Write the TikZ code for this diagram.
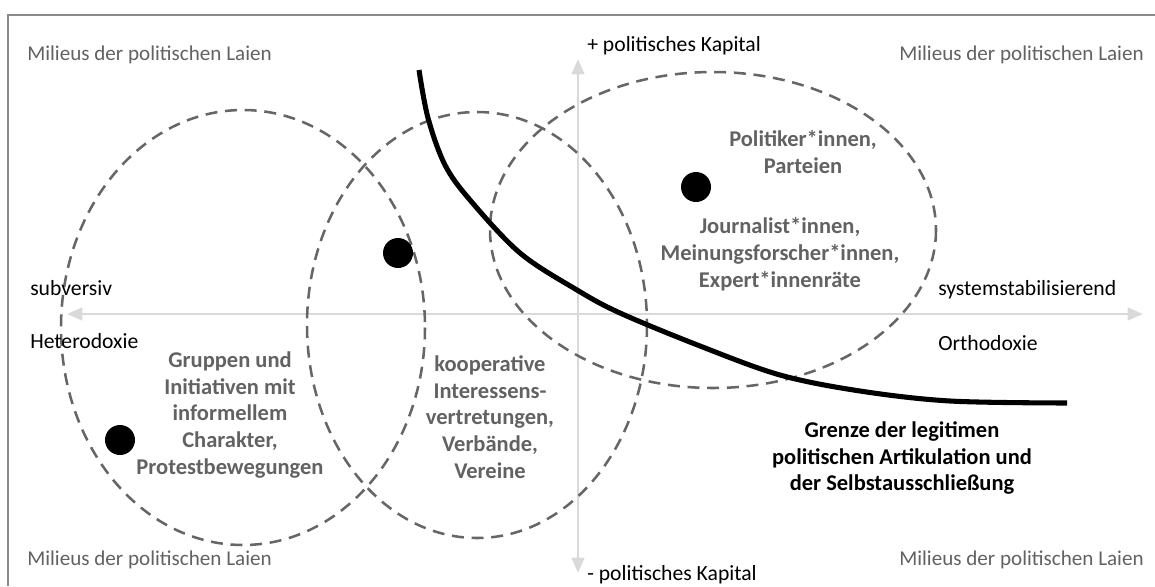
\documentclass[tikz,border=0pt]{standalone}
\usepackage{fontspec}
\setmainfont{Carlito}
\usetikzlibrary{arrows.meta}

\definecolor{axisgray}{HTML}{D9D9D9}
\definecolor{textgray}{HTML}{626262}
\definecolor{dashgray}{HTML}{666666}
\definecolor{framegray}{HTML}{8A8A8A}

\begin{document}
\begin{tikzpicture}[x=0.025cm, y=-0.025cm,
    axis/.style={line width=2pt, axisgray, {Triangle[length=11pt,width=9pt]}-{Triangle[length=11pt,width=9pt]}},
    field/.style={dashgray, line width=1.8pt, dash pattern=on 8.5pt off 5.5pt},
    dot/.style={circle, fill=black, inner sep=0pt, minimum size=0.75cm},
    milieu/.style={textgray, inner sep=0pt, font=\fontsize{15}{18}\selectfont},
    pole/.style={black, inner sep=0pt, font=\fontsize{15.4}{18}\selectfont},
    actor/.style={textgray, align=center, inner sep=0pt, font=\fontsize{16}{19}\selectfont\bfseries},
    border/.style={black, line width=3.6pt}]

    \useasboundingbox (0,0) rectangle (1155,586);

    % Frame (top and left)
    \draw[framegray, line width=1.2pt] (1155,15) -- (8,15) -- (8,586);

    % Axes
    \coordinate (top) at (578,59);
    \coordinate (bottom) at (578,573);
    \coordinate (west) at (67,314);
    \coordinate (east) at (1143,314);
    \draw[axis] (bottom) -- (top);
    \draw[axis] (west) -- (east);

    % Fields
    \draw[field] (243,327.5) ellipse [x radius=182, y radius=217.5];
    \draw[field] (477,325) ellipse [x radius=170, y radius=213];
    \draw[field] (713,230) ellipse [x radius=223, y radius=158];

    % Corner labels
    \node[milieu, anchor=base west] (laienNW) at (27,60) {Milieus der politischen Laien};
    \node[milieu, anchor=base east] (laienNE) at (1144,60) {Milieus der politischen Laien};
    \node[milieu, anchor=base west] (laienSW) at (27,565) {Milieus der politischen Laien};
    \node[milieu, anchor=base east] (laienSE) at (1144,565) {Milieus der politischen Laien};

    % Axis labels
    \node[pole, anchor=base west] (plus) at (587,51) {+ politisches Kapital};
    \node[pole, anchor=base west] (minus) at (587,580) {- politisches Kapital};
    \node[pole, anchor=base west] (subv) at (30,295) {subversiv};
    \node[pole, anchor=base west] (hetero) at (30,348) {Heterodoxie};
    \node[pole, anchor=base west] (stab) at (938,295) {systemstabilisierend};
    \node[pole, anchor=base west] (ortho) at (938,350) {Orthodoxie};

    % Actors
    \node[dot] (dotA) at (120,440) {};
    \node[dot] (dotB) at (398,253) {};
    \node[dot] (dotC) at (696,187) {};
    \node[actor] (gruppen) at (230,415) {Gruppen und\\Initiativen mit\\informellem\\Charakter,\\Protestbewegungen};
    \node[actor] (verbaende) at (490,417) {kooperative\\Interessens-\\vertretungen,\\Verbände,\\Vereine};
    \node[actor] (politik) at (803,152) {Politiker*innen,\\Parteien};
    \node[actor] (medien) at (780,254) {Journalist*innen,\\Meinungsforscher*innen,\\Expert*innenräte};

    % Boundary line
    \draw[border, line cap=butt] plot[smooth, tension=0.55] coordinates {(419,70) (428,118) (445,165) (470,200) (520,253) (577,290) (620,313) (700,346) (780,375) (860,391) (950,401) (1067,403)};
    \node[actor, black] (grenze) at (902,458) {Grenze der legitimen\\politischen Artikulation und\\der Selbstausschließung};
\end{tikzpicture}
\end{document}
